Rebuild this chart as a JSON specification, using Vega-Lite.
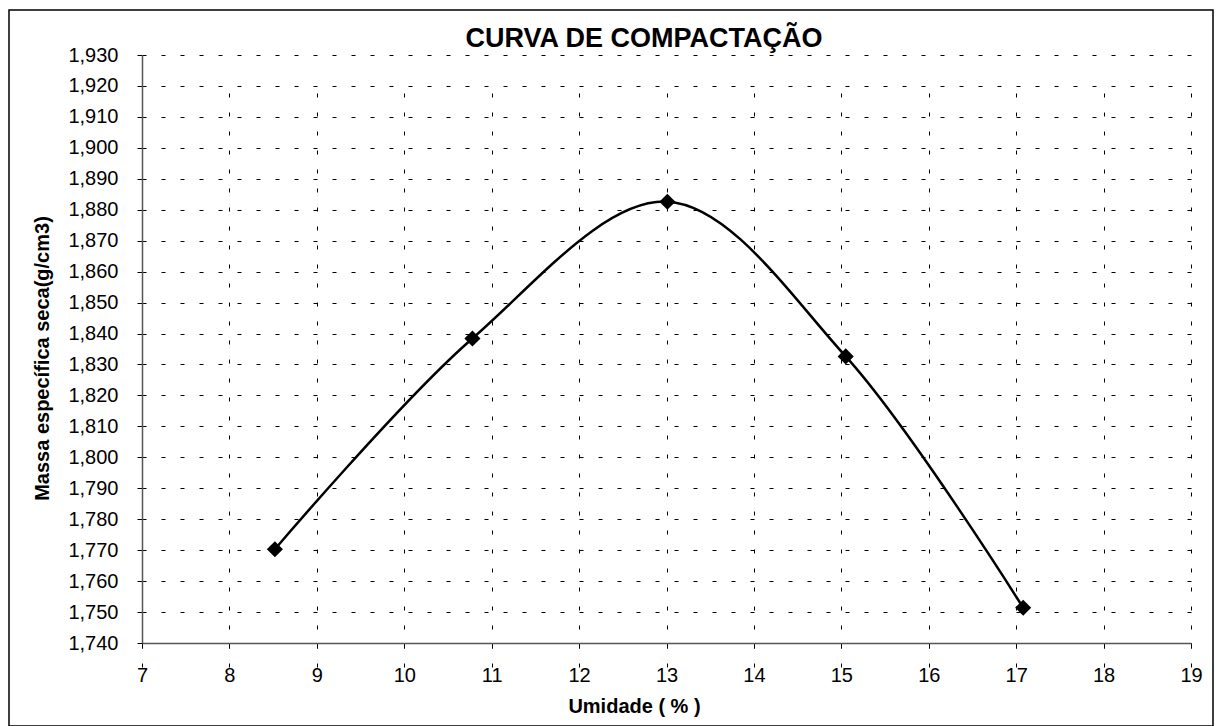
{
  "$schema": "https://vega.github.io/schema/vega-lite/v6.json",
  "autosize": {"type": "none"},
  "width": 1204,
  "height": 716,
  "padding": {"left": 9, "top": 10, "right": 5, "bottom": 0},
  "background": "white",
  "config": {
    "view": {"stroke": "#000000", "strokeWidth": 1.5},
    "font": "Liberation Sans"
  },
  "title": {
    "text": "CURVA DE COMPACTAÇÃO",
    "font": "Liberation Sans",
    "fontSize": 27,
    "fontWeight": "bold",
    "color": "#000000",
    "anchor": "middle",
    "frame": "group",
    "baseline": "alphabetic",
    "offset": -64,
    "dx": 33
  },
  "data": {
    "values": [
      {"umidade": 8.52, "massa": 1.7703},
      {"umidade": 10.78, "massa": 1.8384},
      {"umidade": 13.01, "massa": 1.8826},
      {"umidade": 15.05, "massa": 1.8326},
      {"umidade": 17.08, "massa": 1.7514}
    ]
  },
  "encoding": {
    "x": {
      "field": "umidade",
      "type": "quantitative",
      "scale": {"domain": [7, 19], "range": [133, 1182], "zero": false, "nice": false},
      "axis": {
        "title": "Umidade ( % )",
        "values": [7, 8, 9, 10, 11, 12, 13, 14, 15, 16, 17, 18, 19],
        "format": "d",
        "offset": -83,
        "grid": true,
        "gridColor": "#000000",
        "gridDash": [4, 15],
        "gridWidth": 1,
        "domainColor": "#555555",
        "domainWidth": 1.5,
        "tickColor": "#000000",
        "tickSize": 5,
        "tickWidth": 1,
        "labelFont": "Liberation Sans",
        "labelFontSize": 20,
        "labelColor": "#000000",
        "labelPadding": 17,
        "labelFlush": false,
        "titleFont": "Liberation Sans",
        "titleFontSize": 20,
        "titleFontWeight": "bold",
        "titleColor": "#000000",
        "titleX": 625,
        "titleY": 69,
        "titleAlign": "center",
        "titleBaseline": "alphabetic"
      }
    },
    "y": {
      "field": "massa",
      "type": "quantitative",
      "scale": {"domain": [1.74, 1.93], "range": [633, 45], "zero": false, "nice": false},
      "axis": {
        "title": "Massa específica seca(g/cm3)",
        "values": [1.74, 1.75, 1.76, 1.77, 1.78, 1.79, 1.80, 1.81, 1.82, 1.83, 1.84, 1.85, 1.86, 1.87, 1.88, 1.89, 1.90, 1.91, 1.92, 1.93],
        "labelExpr": "replace(format(datum.value, '.3f'), '.', ',')",
        "offset": -133,
        "grid": true,
        "gridColor": "#000000",
        "gridDash": [4, 15],
        "gridWidth": 1,
        "domainColor": "#555555",
        "domainWidth": 1.5,
        "tickColor": "#000000",
        "tickSize": 5,
        "tickWidth": 1,
        "labelFont": "Liberation Sans",
        "labelFontSize": 20,
        "labelColor": "#000000",
        "labelPadding": 19,
        "labelFlush": false,
        "labelOverlap": false,
        "titleFont": "Liberation Sans",
        "titleFontSize": 20,
        "titleFontWeight": "bold",
        "titleColor": "#000000",
        "titleAngle": -90,
        "titleX": -94,
        "titleY": 348,
        "titleAlign": "center",
        "titleBaseline": "alphabetic"
      }
    }
  },
  "layer": [
    {
      "mark": {"type": "line", "interpolate": "catmull-rom", "color": "#000000", "strokeWidth": 2.5}
    },
    {
      "mark": {"type": "point", "shape": "diamond", "filled": true, "color": "#000000", "size": 260, "opacity": 1}
    }
  ]
}
